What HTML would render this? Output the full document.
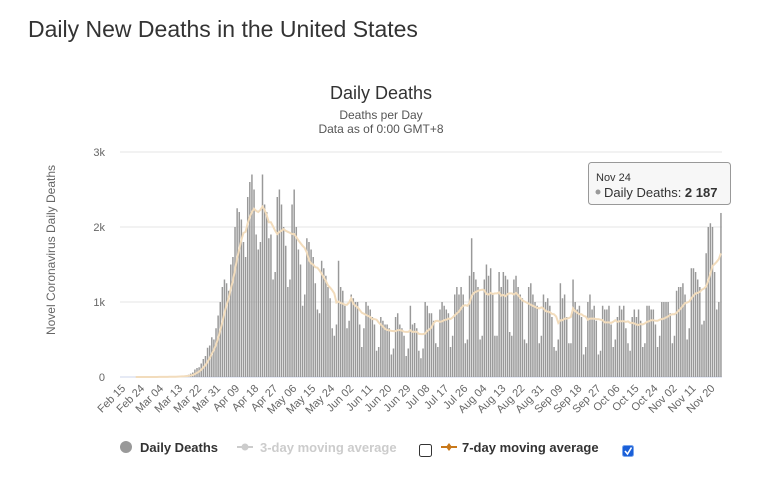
<!DOCTYPE html>
<html><head><meta charset="utf-8"><style>
body{margin:0;background:#fff;font-family:"Liberation Sans",sans-serif;}
#wrap{position:relative;width:765px;height:500px;overflow:hidden;}
h1{position:absolute;left:28px;top:16px;margin:0;font-weight:normal;font-size:23px;color:#333;}
</style></head><body>
<div id="wrap">
<h1>Daily New Deaths in the United States</h1>
<svg id="chart" width="765" height="500" style="position:absolute;left:0;top:0"></svg>
</div>
<script>
const startDate = [2020, 1, 15];
const deaths = [0,0,0,0,0,0,0,0,0,0,0,0,0,0,1,0,
1,4,3,2,1,3,4,
4,8,7,9,11,10,13,
22,30,45,60,100,120,130,
180,240,280,390,420,530,500,
650,820,1000,1200,1300,1250,1150,
1500,1600,2000,2250,2200,2100,1800,
1600,2400,2600,2700,2500,1900,1700,
1800,2700,2300,2200,1850,1900,1300,
1400,2400,2500,2300,2000,1750,1200,
1300,2300,2500,2000,1700,1500,950,
1100,1850,1800,1700,1600,1250,900,
850,1550,1450,1350,1200,1050,650,
550,700,1550,1200,1150,950,650,
750,1100,1050,1000,1000,700,400,
650,1000,950,900,800,700,350,
400,800,750,700,700,650,300,
380,800,850,700,650,550,280,
380,950,700,720,650,350,250,
380,1000,950,850,850,750,450,
400,900,1000,950,900,850,400,
550,1100,1200,1100,1200,1100,450,
500,1350,1850,1400,1300,1200,500,
550,1300,1500,1350,1450,1100,550,
550,1400,1200,1400,1350,1300,600,
550,1300,1350,1200,1100,1050,500,
450,1200,1250,1100,1000,950,450,
550,1100,1000,1050,950,800,400,
350,500,1250,1050,1100,800,450,
450,1300,1000,900,950,800,300,
400,1000,1100,900,950,750,300,
350,950,900,900,950,700,400,
500,800,950,900,950,650,450,
350,800,900,800,900,750,400,
450,950,950,900,900,700,400,
550,1000,1000,1000,1000,850,450,
550,1150,1200,1200,1250,1100,500,
650,1450,1450,1400,1300,1200,700,
750,1650,2000,2050,2000,1400,900,
1000,2187];
const yTicks = [0,1000,2000,3000];
const yTickLabels = ["0","1k","2k","3k"];
const tickEvery = 9;

const svg = document.getElementById('chart');
const NS = 'http://www.w3.org/2000/svg';
const X0 = 122, X1 = 722, Y0 = 377, Y1 = 152;
const n = deaths.length;
const step = (X1 - X0) / n;
const xs = i => X0 + (i + 0.5) * step;
const ys = v => Y0 - v / 3000 * (Y0 - Y1);
function mk(tag, attrs, parent){const e=document.createElementNS(NS,tag);for(const k in attrs)e.setAttribute(k,attrs[k]);(parent||svg).appendChild(e);return e;}
const mon=["Jan","Feb","Mar","Apr","May","Jun","Jul","Aug","Sep","Oct","Nov","Dec"];
function label(i){const d=new Date(startDate[0],startDate[1],startDate[2]+i);return mon[d.getMonth()]+" "+String(d.getDate()).padStart(2,"0");}

// titles
let t=mk('text',{x:381,y:99,'text-anchor':'middle','font-size':18,fill:'#333'});t.textContent='Daily Deaths';

t=mk('text',{x:381,y:119,'text-anchor':'middle','font-size':12,fill:'#555'});t.textContent='Deaths per Day';

t=mk('text',{x:381,y:133,'text-anchor':'middle','font-size':12,fill:'#555'});t.textContent='Data as of 0:00 GMT+8';


// grid + y labels
yTicks.forEach((v,k)=>{
  const y=ys(v);
  const g=mk('line',{x1:X0-2,x2:X1,y1:y,y2:y,stroke:v===0?'#ccd6eb':'#e6e6e6','stroke-width':1});
  
  const l=mk('text',{x:105,y:y+4,'text-anchor':'end','font-size':11,fill:'#666'});l.textContent=yTickLabels[k];
  
});
t=mk('text',{transform:'translate(55,250) rotate(-90)','text-anchor':'middle','font-size':12,fill:'#666'});t.textContent='Novel Coronavirus Daily Deaths';


// bars
deaths.forEach((v,i)=>{
  const y=ys(v);
  const b=mk('rect',{x:xs(i)-step*0.35,y:y,width:step*0.7,height:Y0-y,fill:'#999'});
  
  
});

// 7-day moving average
let pts=[];
deaths.forEach((v,i)=>{
  if(i<6)return;
  let s=0;for(let j=i-6;j<=i;j++)s+=deaths[j];
  pts.push(xs(i).toFixed(1)+','+ys(s/7).toFixed(1));
});
const ma=mk('polyline',{points:pts.join(' '),fill:'none',stroke:'#f2dcbc','stroke-width':2});


// x labels
for(let i=0;i<n;i+=tickEvery){
  const x=xs(i);
  const l=mk('text',{transform:`translate(${x+3},389) rotate(-45)`,'text-anchor':'end','font-size':11,fill:'#666'});
  l.textContent=label(i);
  
}

// tooltip
const tg=mk('g',{});
mk('rect',{x:588.5,y:162.5,width:142,height:42,rx:3,fill:'#f7f7f7',stroke:'#999','stroke-width':1},tg);
t=mk('text',{x:596,y:181,'font-size':11,fill:'#333'},tg);t.textContent=label(n-1);
mk('circle',{cx:598,cy:192,r:2.5,fill:'#999'},tg);
t=mk('text',{x:604,y:197,'font-size':13,fill:'#333'},tg);
t.innerHTML='Daily Deaths: <tspan font-weight="bold">2 187</tspan>';

// legend
const lg=mk('g',{});
let e=mk('g',{},lg);
mk('circle',{cx:126,cy:447,r:6,fill:'#999'},e);
t=mk('text',{x:140,y:452,'font-size':13,'font-weight':'bold',fill:'#333'},e);t.textContent='Daily Deaths';
e=mk('g',{},lg);
mk('line',{x1:237,x2:253,y1:447,y2:447,stroke:'#ccc','stroke-width':2},e);
mk('circle',{cx:245,cy:447,r:3.5,fill:'#ccc'},e);
t=mk('text',{x:260,y:452,'font-size':13,'font-weight':'bold',fill:'#ccc'},e);t.textContent='3-day moving average';
e=mk('rect',{x:419.5,y:444.5,width:12,height:12,rx:2,fill:'#fff',stroke:'#333'},lg);

e=mk('g',{},lg);
mk('line',{x1:441,x2:457,y1:447,y2:447,stroke:'#c8781a','stroke-width':2},e);
mk('path',{d:'M449 443 L452 447 L449 451 L446 447 Z',fill:'#c8781a'},e);
t=mk('text',{x:462,y:452,'font-size':13,'font-weight':'bold',fill:'#333'},e);t.textContent='7-day moving average';
e=mk('g',{},lg);
mk('rect',{x:622.5,y:445.5,width:11,height:11,rx:2,fill:'#1a5fd8',stroke:'#7aa7ee'},e);
mk('path',{d:'M625 451 L627.5 454 L631.5 447.5',fill:'none',stroke:'#fff','stroke-width':1.6},e);
</script>
</body></html>
